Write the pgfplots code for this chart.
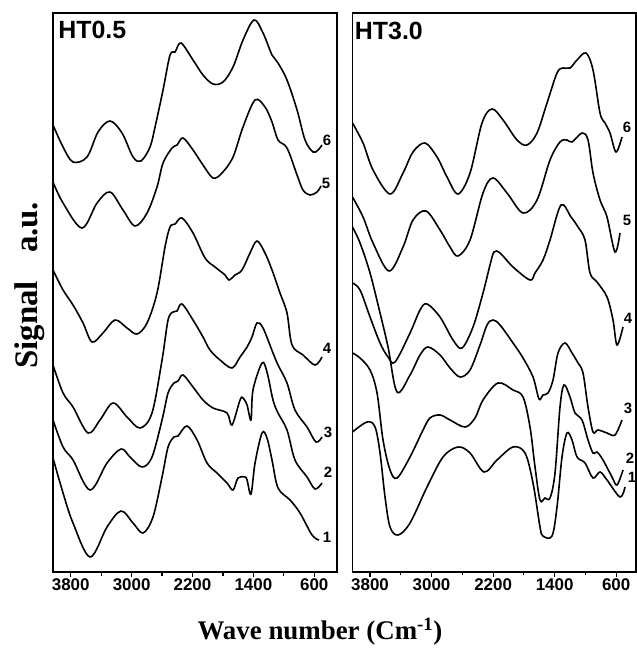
\documentclass[border=0pt]{standalone}
\usepackage{fontspec}
\setmainfont{Liberation Serif}
\setsansfont{Liberation Sans}
\usepackage{pgfplots}
\pgfplotsset{compat=1.18}

% number at the right end of each spectrum
\tikzset{numlabel/.style = {font=\sffamily\bfseries\fontsize{15}{15}\selectfont, inner sep=0pt}}

\pgfplotsset{
    % one spectrum, drawn as a smooth black line
    spectrum/.style = {black, line width=1.6bp, smooth, tension=0.55, no marks},
    % common look of both panels
    panel/.style = {
        scale only axis,
        width  = 284bp,
        height = 559bp,
        x dir  = reverse,
        ymin = 0, ymax = 559,
        clip = false,
        axis line style = {line width=1.5bp},
        xtick       = {3800,3000,2200,1400,600},
        xticklabels = {3800,3000,2200,1400,600},
        minor xtick = {3400,2600,1800,1000},
        ytick = \empty,
        xtick pos = left,
        tick align = outside,
        major tick length = 5bp,
        minor tick length = 3.5bp,
        tick style = {black, line width=1.2bp},
        xticklabel style = {font=\sffamily\bfseries\fontsize{17}{17}\selectfont, inner sep=1bp},
    },
}

\begin{document}
\begin{tikzpicture}
\useasboundingbox (0bp,0bp) rectangle (637bp,648bp);

% ---------------- HT0.5 ----------------
\begin{axis}[
    panel,
    at = {(53bp,76bp)}, anchor = south west,
    xmin = 301, xmax = 4033,
    ylabel = {Signal\hspace{0.85em}a.u.},
    ylabel style = {font=\rmfamily\bfseries\fontsize{33}{35}\selectfont,
                    at={(rel axis cs:-0.056,0.513)}, anchor=base, rotate=0},
    xlabel = {Wave number (Cm\textsuperscript{-1})},
    xlabel style = {font=\rmfamily\bfseries\fontsize{27}{30}\selectfont,
                    at={(rel axis cs:0.94,-0.1216)}, anchor=base},
]
    % 6
    \addplot[spectrum] coordinates {
        (4033,447) (3901,425) (3770,410) (3586,415) (3441,440) (3284,451)
        (3126,439) (2981,415) (2876,411) (2758,425) (2692,445) (2587,482)
        (2495,517) (2429,520) (2351,529) (2193,512) (2062,497) (1930,488)
        (1799,490) (1667,505) (1536,532) (1391,552) (1273,539) (1155,517)
        (1076,509) (958,492) (826,462) (721,432) (616,420) (550,422) (498,427)
    };
    % 5
    \addplot[spectrum] coordinates {
        (4033,390) (3901,369) (3652,344) (3454,369) (3284,380) (3113,362)
        (2955,346) (2797,359) (2666,385) (2587,409) (2469,424) (2403,427)
        (2324,434) (2193,422) (2062,407) (1930,394) (1812,399) (1667,415)
        (1536,445) (1378,472) (1247,465) (1155,450) (1076,432) (958,424)
        (826,397) (748,382) (656,377) (564,380) (511,386)
    };
    % 4
    \addplot[spectrum] coordinates {
        (4033,302) (3901,282) (3770,267) (3638,249) (3520,230) (3376,239)
        (3218,252) (3060,244) (2929,238) (2797,249) (2666,279) (2561,325)
        (2495,345) (2429,348) (2338,354) (2193,339) (2035,314) (1904,305)
        (1772,297) (1720,292) (1641,297) (1549,302) (1444,319) (1352,331)
        (1247,319) (1155,302) (1050,279) (958,259) (892,227) (748,217)
        (590,207) (498,215)
    };
    % 3
    \addplot[spectrum] coordinates {
        (4033,207) (3901,179) (3770,165) (3573,139) (3415,152) (3244,169)
        (3060,155) (2889,144) (2732,159) (2600,212) (2521,252) (2456,260)
        (2403,261) (2338,268) (2193,252) (2062,235) (1970,222) (1838,212)
        (1681,204) (1575,215) (1483,225) (1418,235) (1352,249) (1273,244)
        (1142,219) (1076,207) (958,189) (853,162) (695,145) (577,130) (498,135)
    };
    % 2
    \addplot[spectrum] coordinates {
        (4033,152) (3901,125) (3770,112) (3546,82) (3323,109) (3139,123)
        (3021,115) (2863,105) (2732,115) (2600,152) (2521,179) (2443,189)
        (2390,191) (2324,197) (2193,185) (2062,172) (1930,164) (1746,159)
        (1681,147) (1575,172) (1536,174) (1483,167) (1431,152) (1405,182)
        (1286,209) (1221,200) (1142,172) (1076,159) (958,142) (853,112)
        (695,95) (590,83) (498,89)
    };
    % 1
    \addplot[spectrum] coordinates {
        (4033,114) (3901,79) (3770,49) (3546,15) (3323,45) (3139,61)
        (2981,49) (2850,39) (2719,55) (2600,95) (2521,125) (2443,135)
        (2390,136) (2272,146) (2140,132) (2009,109) (1878,99) (1746,89)
        (1667,82) (1602,94) (1510,95) (1483,92) (1431,78) (1378,109)
        (1286,139) (1221,134) (1155,112) (1076,84) (918,72) (787,59)
        (629,37) (537,32)
    };
    \node[numlabel] at (axis cs:432,432) {6};
    \node[numlabel] at (axis cs:445,389) {5};
    \node[numlabel] at (axis cs:432,224) {4};
    \node[numlabel] at (axis cs:419,140) {3};
    \node[numlabel] at (axis cs:419,100) {2};
    \node[numlabel] at (axis cs:432,35)  {1};
    \node[anchor=north west, inner sep=0pt,
          font=\sffamily\bfseries\fontsize{25}{25}\selectfont]
          at (rel axis cs:0.018,0.985) {HT0.5};
\end{axis}

% ---------------- HT3.0 ----------------
\begin{axis}[
    panel,
    at = {(352.5bp,76bp)}, anchor = south west,
    width = 283.5bp,
    xmin = 342, xmax = 4028,
]
    % 6
    \addplot[spectrum] coordinates {
        (4028,449) (3891,429) (3761,402) (3540,378) (3371,399) (3241,420)
        (3085,429) (2929,415) (2799,395) (2656,378) (2500,399) (2344,449)
        (2214,463) (2071,452) (1889,432) (1759,427) (1629,439) (1499,469)
        (1369,499) (1291,504) (1200,504) (1109,512) (992,519) (901,502)
        (810,459) (745,449) (680,439) (602,420) (524,435)
    };
    % 5
    \addplot[spectrum] coordinates {
        (4028,375) (3891,355) (3761,329) (3553,301) (3371,325) (3241,352)
        (3072,361) (2890,342) (2760,325) (2656,316) (2500,332) (2331,379)
        (2201,394) (2019,379) (1811,359) (1629,372) (1460,412) (1330,430)
        (1239,432) (1174,430) (1044,439) (966,432) (901,399) (810,372)
        (719,355) (615,320) (550,339)
    };
    % 4
    \addplot[spectrum] coordinates {
        (4028,289) (3930,282) (3800,255) (3670,229) (3566,215) (3475,210)
        (3280,239) (3150,262) (3059,268) (2890,255) (2721,232) (2604,224)
        (2461,245) (2331,279) (2240,307) (2188,320) (2110,319) (1941,305)
        (1720,292) (1655,299) (1551,312) (1460,332) (1317,367) (1187,355)
        (1096,345) (1005,332) (940,299) (849,290) (719,275) (641,252)
        (589,227) (511,245)
    };
    % 3
    \addplot[spectrum] coordinates {
        (4028,345) (3930,329) (3800,299) (3670,259) (3566,225) (3449,180)
        (3280,197) (3150,217) (3046,225) (2890,217) (2760,204) (2630,195)
        (2500,202) (2370,227) (2279,247) (2201,252) (2110,247) (1941,229)
        (1811,214) (1681,195) (1603,173) (1551,177) (1486,179) (1421,192)
        (1356,219) (1265,229) (1174,219) (1096,209) (1031,199) (966,165)
        (901,140) (836,142) (719,139) (615,137) (524,152)
    };
    % 2
    \addplot[spectrum] coordinates {
        (4028,219) (3930,214) (3800,202) (3709,179) (3631,132) (3540,102)
        (3449,94) (3280,115) (3111,142) (3020,154) (2890,157) (2760,152)
        (2565,145) (2435,154) (2331,172) (2136,189) (1941,182) (1811,175)
        (1720,145) (1655,105) (1590,72) (1525,74) (1460,74) (1395,99)
        (1330,165) (1278,187) (1200,175) (1135,159) (1044,152) (966,132)
        (901,119) (849,120) (771,112) (654,95) (589,87) (511,102)
    };
    % 1
    \addplot[spectrum] coordinates {
        (4028,140) (3839,150) (3735,145) (3670,119) (3605,75) (3540,45)
        (3436,37) (3280,49) (3059,85) (2851,115) (2656,125) (2500,119)
        (2318,100) (2149,112) (1941,125) (1785,119) (1681,89) (1590,45)
        (1551,36) (1434,36) (1369,65) (1304,115) (1239,139) (1174,132)
        (1109,115) (1005,109) (901,94) (810,100) (719,92) (550,75) (485,85)
    };
    \node[numlabel] at (axis cs:459,445) {6};
    \node[numlabel] at (axis cs:459,352) {5};
    \node[numlabel] at (axis cs:446,254) {4};
    \node[numlabel] at (axis cs:446,164) {3};
    \node[numlabel] at (axis cs:420,114) {2};
    \node[numlabel] at (axis cs:394,95)  {1};
    \node[anchor=north west, inner sep=0pt,
          font=\sffamily\bfseries\fontsize{25}{25}\selectfont]
          at (rel axis cs:0.008,0.984) {HT3.0};
\end{axis}
\end{tikzpicture}
\end{document}
